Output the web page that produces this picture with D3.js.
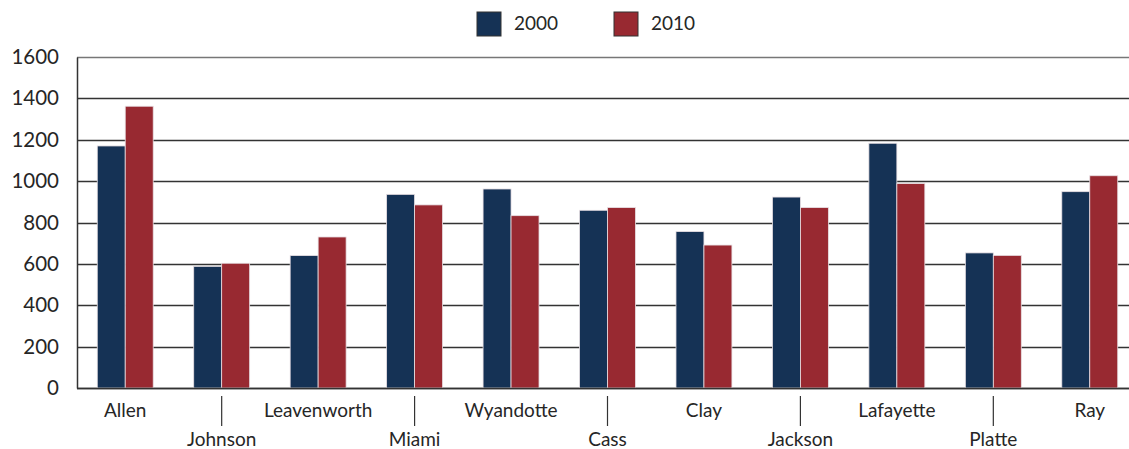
<!DOCTYPE html>
<html><head><meta charset="utf-8">
<script src="https://cdn.jsdelivr.net/npm/d3@7"></script>
<style>
html,body{margin:0;padding:0;background:#fff;}
svg{display:block;font-family:"Lato","Open Sans",sans-serif;}
</style></head>
<body>
<script>
const categories = ["Allen","Johnson","Leavenworth","Miami","Wyandotte","Cass","Clay","Jackson","Lafayette","Platte","Ray"];
const seriesNames = ["2000","2010"];
const values2000 = [1170,588,640,936,962,859,756,923,1183,653,949];
const values2010 = [1362,603,730,885,833,872,691,872,988,641,1026];
const yTicks = [0,200,400,600,800,1000,1200,1400,1600];
const colors = ["#153255","#982931"];

const W = 1129, H = 449;
const margin = {left:77, top:57, bottom:61};
const plotW = 1061; // extends beyond the visible edge
const plotH = H - margin.top - margin.bottom;

const svg = d3.select("body").append("svg").attr("width",W).attr("height",H);

const x = d3.scaleBand().domain(categories).range([margin.left, margin.left+plotW]).paddingInner(0.42).paddingOuter(0.21);
const xs = d3.scaleBand().domain(seriesNames).range([0, x.bandwidth()]);
const y = d3.scaleLinear().domain([0,1600]).range([margin.top+plotH, margin.top]);

// gridlines
svg.append("g").selectAll("line").data(yTicks).join("line")
  .attr("x1",margin.left).attr("x2",margin.left+plotW)
  .attr("y1",d=>Math.round(y(d))+0.5).attr("y2",d=>Math.round(y(d))+0.5)
  .attr("stroke",d=>d===1600?"#777":"#333").attr("stroke-width",1.3);

// y axis
const yAxis = d3.axisLeft(y).tickValues(yTicks).tickFormat(d3.format("d")).tickSize(0).tickPadding(18);
const ga = svg.append("g").attr("transform",`translate(${margin.left},0)`).call(yAxis);
ga.select(".domain").attr("stroke","#333").attr("stroke-width",1.5);
ga.selectAll("text").attr("font-size",20.5).attr("fill","#262626").attr("font-family","Lato, 'Open Sans', sans-serif");

// bars
const data = categories.map((c,i)=>({cat:c, vals:[values2000[i], values2010[i]]}));
const groups = svg.append("g").selectAll("g").data(data).join("g")
  .attr("transform",d=>`translate(${x(d.cat)},0)`);
groups.selectAll("rect").data(d=>d.vals.map((v,j)=>({s:seriesNames[j], v, j}))).join("rect")
  .attr("x",d=>xs(d.s)).attr("width",xs.bandwidth())
  .attr("y",d=>y(d.v)).attr("height",d=>y(0)-y(d.v))
  .attr("fill",d=>colors[d.j]).attr("stroke","#e8e0e4").attr("stroke-width",0.8);

// baseline
svg.append("line").attr("x1",margin.left).attr("x2",margin.left+plotW)
  .attr("y1",y(0)+0.5).attr("y2",y(0)+0.5).attr("stroke","#333").attr("stroke-width",1.5);

// x labels, staggered
const lab = svg.append("g");
categories.forEach((c,i)=>{
  const cx = x(c)+x.bandwidth()/2;
  if(i%2===0){
    lab.append("text").attr("x",cx).attr("y",417).attr("text-anchor","middle")
      .attr("font-size",19).attr("fill","#262626").text(c);
  } else {
    lab.append("line").attr("x1",cx).attr("x2",cx).attr("y1",396).attr("y2",426)
      .attr("stroke","#333").attr("stroke-width",1.2);
    lab.append("text").attr("x",cx).attr("y",446).attr("text-anchor","middle")
      .attr("font-size",19).attr("fill","#262626").text(c);
  }
});

// legend
const legX = [477,614];
const leg = svg.append("g");
seriesNames.forEach((s,i)=>{
  leg.append("rect").attr("x",legX[i]).attr("y",12).attr("width",24).attr("height",24)
    .attr("fill",colors[i]).attr("stroke","#333").attr("stroke-width",1);
  leg.append("text").attr("x",legX[i]+37).attr("y",30).attr("font-size",19).attr("fill","#262626").text(s);
});
</script>
</body></html>
